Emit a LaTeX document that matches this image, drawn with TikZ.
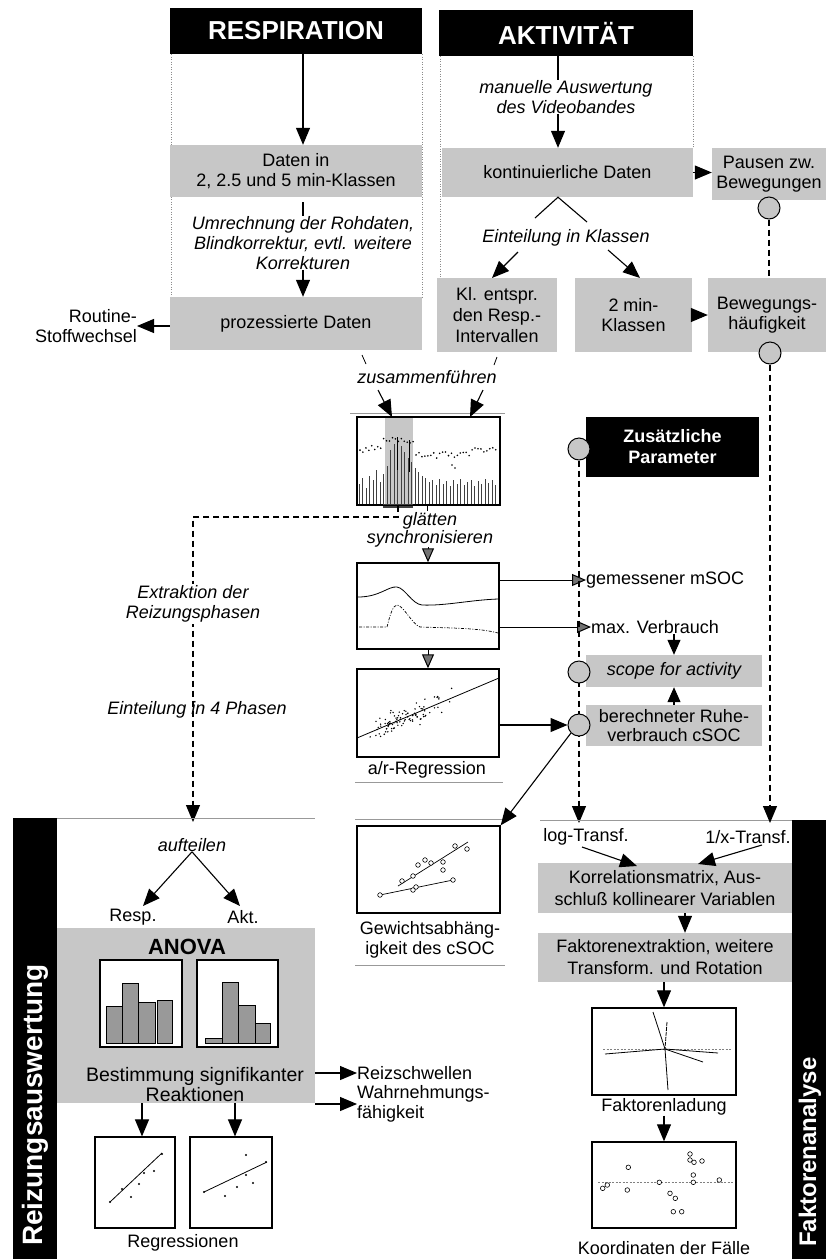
\documentclass[tikz,border=0pt]{standalone}
\usepackage{fontspec}
\setmainfont{Liberation Sans}
\usetikzlibrary{arrows.meta,calc}
\definecolor{stip}{gray}{0.78}
\definecolor{faint}{gray}{0.6}
\newcommand\myfs{\fontsize{18}{20}\selectfont}
\begin{document}
\begin{tikzpicture}[x=1pt,y=-1pt,
  gbox/.style={fill=stip, inner sep=0pt, align=center, font=\myfs},
  txt/.style={inner sep=0pt, align=center, font=\myfs},
  itx/.style={inner sep=0pt, align=center, font=\myfs\itshape},
  hdr/.style={fill=black, text=white, inner sep=0pt, font=\fontsize{26}{28}\selectfont\bfseries},
  arr/.style={line width=1.1pt, -{Triangle[length=17pt,width=14pt]}},
  marr/.style={line width=1.1pt, -{Triangle[length=15pt,width=13pt]}},
  sarr/.style={line width=1pt, -{Triangle[length=14pt,width=12pt,fill=black!55]}},
  dsh/.style={line width=1.1pt, dash pattern=on 6pt off 4pt},
  darr/.style={line width=1.1pt, dash pattern=on 6pt off 4pt, -{Triangle[length=17pt,width=14pt]}},
  circ/.style={circle, draw, line width=1pt, fill=stip, minimum size=22pt, inner sep=0pt},
  plotbox/.style={draw, line width=1.4pt, fill=white, inner sep=0pt},
  fline/.style={faint, line width=0.7pt},
  colframe/.style={black!45, line width=0.5pt, dotted},
  chbar/.style={draw, line width=0.7pt, fill=black!40},
  ocirc/.style={draw, line width=0.6pt, fill=white},
]
\useasboundingbox (0,0) rectangle (826,1259);

% faint column frames
\draw[colframe] (171,54) -- (171,297);
\draw[colframe] (422,54) -- (422,297);
\draw[colframe] (440,56) -- (440,278);
\draw[colframe] (693,56) -- (693,148);

% ---------------- headers
\node[hdr, minimum width=252pt, minimum height=46pt] (resp) at (296,31) {RESPIRATION};
\node[hdr, minimum width=254pt, minimum height=46pt] (akt) at (566,33) {AKTIVITÄT};

% ---------------- Respiration column
\node[gbox, minimum width=252pt, minimum height=52pt] (dat) at (296,171) {Daten in\\2, 2.5 und 5 min-Klassen};
\node[itx] (umr) at (303,243) {Umrechnung der Rohdaten,\\Blindkorrektur, evtl. weitere\\Korrekturen};
\node[gbox, minimum width=252pt, minimum height=53pt] (proz) at (296,323.5) {prozessierte Daten};
\draw[arr] (resp.south -| umr.north) -- (dat.north -| umr.north);
\draw[line width=1.1pt] (dat.south -| umr.north) ++(0,5) -- (umr.north);
\draw[arr] (umr.south) -- (proz.north -| umr.south);
\node[txt, align=right, anchor=east] (rt) at (137,326) {Routine-\\Stoffwechsel};
\draw[arr] (proz.west |- rt.east) -- (rt.east);

% ---------------- Aktivitaet column
\coordinate (ax) at (558,0);
\node[itx] (man) at (566,97) {manuelle Auswertung\\des Videobandes};
\node[gbox, minimum width=251pt, minimum height=49pt] (kont) at (567.5,172.5) {kontinuierliche Daten};
\draw[line width=1.1pt] (akt.south -| ax) -- (man.north -| ax);
\draw[arr] (man.south -| ax) -- (kont.north -| ax);
\node[gbox, minimum width=114pt, minimum height=52pt] (pause) at (769,174) {Pausen zw.\\Bewegungen};
\draw[arr] (kont.east) -- (pause.west |- kont.east);
\node[circ] (c1) at (769,208) {};

\coordinate (la) at (535,218);
\coordinate (ra) at (587,222);
\draw[line width=1.1pt] (la) -- (kont.south -| ax) -- (ra);
\node[itx] (ein) at (566,238) {Einteilung in Klassen};
\node[gbox, minimum width=120pt, minimum height=74pt, font=\fontsize{18}{21}\selectfont] (kl) at (497,315) {Kl. entspr.\\den Resp.-\\Intervallen};
\node[gbox, minimum width=117pt, minimum height=74pt] (zm) at (633.5,315) {2 min-\\Klassen};
\node[gbox, minimum width=118pt, minimum height=74pt] (bew) at (767,315) {Bewegungs-\\häufigkeit};
\coordinate (e1) at (518,252);
\coordinate (e1t) at (492,278);
\coordinate (e2) at (608,250);
\coordinate (e2t) at (640,278);
\draw[arr] (e1) -- (e1t);
\draw[arr] (e2) -- (e2t);
\draw[arr] (zm.east) -- (bew.west);
\draw[dsh] (c1) -- (bew.north -| c1);
\node[circ] (c2) at (770,353) {};

% ---------------- merge + plot 1
\node[itx] (zus) at (427,377) {zusammenführen};
\draw[line width=0.8pt] (362,355) -- (366,364);
\draw[line width=0.8pt] (497,357) -- (494,365);
\draw[fline] (350,413) -- (505,413);
\node[plotbox, minimum width=143pt, minimum height=88pt] (p1) at (428.5,461) {};
\coordinate (z1) at (378,390);
\coordinate (z1t) at (392,417);
\coordinate (z2) at (483,390);
\coordinate (z2t) at (470,417);
\draw[arr] (z1) -- (z1t);
\draw[arr] (z2) -- (z2t);
\fill[stip] (385,418) rectangle (413,504);
\foreach \t [count=\i from 0] in {484,478,488,476,480,470,482,474,466,450,444,438,446,452,458,462,468,472,476,478,482,480,485,479,484,481,486,480,484,479,485,482,480,486,481,484,479,483,480,485}{
  \draw[black!75, line width=0.8pt] (359+3.5*\i,504) -- (359+3.5*\i,\t);
}
\draw[line width=0.8pt] (397,437) -- (397,470);
\draw[line width=0.8pt] (409,440) -- (409,472);
\pgfmathsetseed{11}
\foreach \i in {0,...,46}{
  \pgfmathsetmacro\px{360+\i*2.95}
  \pgfmathsetmacro\py{449-(\px>383.5)*(\px<414)*9+(\px>414)*(\px<470)*6+(\px>470)*2+7*(rnd-0.5)}
  \fill (\px,\py) circle (0.9pt);
}
\fill (452,465) circle (0.9pt);
\fill (455,468) circle (0.9pt);
\fill[black!75] (383,504) rectangle (413,508);
\draw[line width=1.4pt] (p1.north west) rectangle (p1.south east);
\draw[line width=0.8pt] (427,505) -- (427,511);

% dashed route to Reizungsauswertung
\coordinate (d1) at (398,517);
\coordinate (d2) at (193,517);
\coordinate (d3) at (193,822);
\draw[darr] (p1.south -| d1) -- (d1) -- (d2) -- (d3);
\node[itx, fill=white, inner sep=2pt] (ext) at (193,604) {Extraktion der\\Reizungsphasen};
\node[itx] (e4) at (197,710) {Einteilung in 4 Phasen};

% ---------------- plot 2
\node[itx, font=\fontsize{18}{15}\selectfont\itshape] (gl) at (430,530) {glätten\\synchronisieren};
\node[plotbox, minimum width=142pt, minimum height=86pt] (p2) at (428,606) {};
\draw[sarr] (gl.south -| p2.north) -- (p2.north);
\draw[line width=0.8pt] (358,597) .. controls (380,597) and (388,586) .. (397,587)
  .. controls (405,588) and (412,604) .. (422,605) .. controls (445,606) and (470,600) .. (498,599);
\draw[line width=0.7pt, dash pattern=on 3pt off 1.5pt on 1pt off 1.5pt] (359,627) -- (387,627)
  .. controls (390,615) and (393,605) .. (397,605) .. controls (403,605) and (412,624) .. (420,627)
  .. controls (450,628) and (480,628) .. (498,633);
\node[txt, anchor=west] (ms) at (586,580) {gemessener mSOC};
\node[txt, anchor=west] (mv) at (591,627) {max. Verbrauch};
\draw[sarr] (p2.east |- ms.west) -- (ms.west);
\draw[sarr] (p2.east |- mv.west) -- (mv.west);

% ---------------- plot 3
\node[plotbox, minimum width=142pt, minimum height=88pt] (p3) at (428,713) {};
\draw[sarr] (p2.south) -- (p3.north);
\draw[line width=0.8pt] (357,738) -- (499,678);
\pgfmathsetseed{42}
\foreach \i in {1,...,80}{
  \pgfmathsetmacro\px{368+36*(rnd+rnd)}
  \pgfmathsetmacro\py{738-(\px-357)*0.4225+12*(rnd+rnd-1)}
  \fill (\px,\py) circle (0.8pt);
}
\foreach \i in {1,...,16}{
  \pgfmathsetmacro\px{372+118*rnd}
  \pgfmathsetmacro\py{738-(\px-357)*0.4225+30*(rnd-0.5)}
  \fill (\px,\py) circle (0.8pt);
}
\node[txt] (arl) at (427,770) {a/r-Regression};
\draw[fline] (355,782) -- (503,782);

% ---------------- right middle
\node[fill=black, text=white, inner sep=0pt, align=center, font=\fontsize{18}{21}\selectfont\bfseries, minimum width=173pt, minimum height=60pt] (zp) at (672.5,447) {Zusätzliche\\Parameter};
\coordinate (lt) at (579,823);
\node[circ] (cz) at (579,449) {};
\draw[darr] (cz) -- (lt);
\node[gbox, minimum width=176pt, minimum height=32pt, font=\myfs\itshape] (scope) at (674,671) {scope for activity};
\node[gbox, minimum width=176pt, minimum height=41pt, font=\fontsize{18}{19}\selectfont] (ruhe) at (674,725.5) {berechneter Ruhe-\\verbrauch cSOC};
\node[circ] (cs1) at (579,672) {};
\node[circ] (cs2) at (579,725) {};
\draw[marr] (mv.south -| scope.north) -- (scope.north);
\draw[marr] (ruhe.north) -- (scope.south);
\draw[arr] (p3.east |- cs2.west) -- (cs2.west);

% ---------------- plot 4
\draw[fline] (355,819) -- (502,819);
\node[plotbox, minimum width=143pt, minimum height=87pt] (p4) at (428.5,869.5) {};
\draw[arr] (cs2.south west) -- (p4.north east);
\draw[line width=0.7pt] (398,886) -- (468,842);
\draw[line width=0.7pt] (380,895) -- (453,880);
\foreach \q in {(380,895),(413,890),(416,887),(453,880),(402,881),(413,876),(418,865),(425,860),(431,863),(443,862),(443,870),(455,846),(467,849)}{
  \draw[ocirc] \q circle (2.3pt);
}
\node[txt] (gw) at (430,940) {Gewichtsabhäng-\\igkeit des cSOC};
\draw[fline] (355,965) -- (505,965);

% ---------------- Reizungsauswertung panel
\draw[fline] (13,818) -- (315,818);
\node[fill=black, inner sep=0pt, minimum width=44pt, minimum height=441pt] (rzbar) at (35,1038.5) {};
\node[rotate=90, text=white, inner sep=0pt, font=\fontsize{28}{30}\selectfont\bfseries] (rzt) at (35,1105) {Reizungsauswertung};
\node[itx] (auf) at (192,845) {aufteilen};
\node[txt] (rsp) at (133,917) {Resp.};
\node[txt] (ak) at (243,917) {Akt.};
\coordinate (rspt) at (143,906);
\coordinate (akt2) at (240,906);
\draw[arr] (auf.south) -- (rspt);
\draw[arr] (auf.south) -- (akt2);
\node[gbox, minimum width=258pt, minimum height=175pt] (anova) at (186,1015.5) {};
\node[inner sep=0pt, font=\fontsize{22}{24}\selectfont\bfseries] (an) at (187,947) {ANOVA};
\node[plotbox, line width=1.2pt, minimum width=82pt, minimum height=87pt] (b1) at (141,1003.5) {};
\node[plotbox, line width=1.2pt, minimum width=81pt, minimum height=87pt] (b2) at (237.5,1003.5) {};
\draw[chbar] (106,1043) rectangle (122,1006);
\draw[chbar] (122,1043) rectangle (138,983);
\draw[chbar] (138,1043) rectangle (155,1002);
\draw[chbar] (157,1043) rectangle (172,1000);
\draw[chbar] (205,1043) rectangle (222,1038);
\draw[chbar] (222,1043) rectangle (238,982);
\draw[chbar] (238,1043) rectangle (255,1005);
\draw[chbar] (255,1043) rectangle (270,1023);
\node[txt, font=\fontsize{19.5}{20}\selectfont] (best) at (195,1085) {Bestimmung signifikanter\\Reaktionen};
\node[txt, anchor=west] (rz) at (357,1073) {Reizschwellen};
\node[txt, anchor=west, align=left] (wf) at (357,1104) {Wahrnehmungs-\\fähigkeit};
\draw[arr] (anova.east |- rz.west) -- (rz.west);
\draw[arr] (anova.east |- wf.west) -- (wf.west);
\node[plotbox, line width=1.2pt, minimum width=80pt, minimum height=91pt] (r1) at (135,1182.5) {};
\node[plotbox, line width=1.2pt, minimum width=82pt, minimum height=91pt] (r2) at (231,1182.5) {};
\coordinate (a1) at (142,0);
\coordinate (a2) at (235,0);
\draw[arr] (anova.south -| a1) -- (r1.north -| a1);
\draw[arr] (anova.south -| a2) -- (r2.north -| a2);
\draw[line width=0.8pt] (110,1202) -- (162,1153);
\foreach \q in {(110,1202),(122,1189),(131,1197),(139,1184),(144,1173),(154,1171),(162,1154)}{
  \fill \q circle (1.1pt);
}
\draw[line width=0.8pt] (204,1192) -- (267,1162);
\foreach \q in {(204,1192),(225,1196),(237,1187),(246,1175),(246,1155),(253,1183),(266,1162)}{
  \fill \q circle (1.1pt);
}
\node[txt] (regl) at (183,1243) {Regressionen};

% ---------------- Faktorenanalyse panel
\draw[fline] (540,820) -- (792,820);
\node[fill=black, inner sep=0pt, minimum width=34pt, minimum height=439pt] (fbar) at (809,1039.5) {};
\node[rotate=90, text=white, inner sep=0pt, font=\fontsize{24}{26}\selectfont\bfseries] (fkt) at (810,1152) {Faktorenanalyse};
\node[txt] (lg) at (586,837) {log-Transf.};
\node[txt] (ox) at (748,837) {1/x-Transf.};
\coordinate (ot) at (770,823);
\draw[darr] (c2) -- (ot);
\node[gbox, minimum width=254pt, minimum height=50pt, font=\fontsize{18}{22}\selectfont] (kor) at (665,888) {Korrelationsmatrix, Aus-\\schluß kollinearer Variablen};
\node[gbox, minimum width=254pt, minimum height=49pt, font=\fontsize{18}{22}\selectfont] (fe) at (665,957.5) {Faktorenextraktion, weitere\\Transform. und Rotation};
\coordinate (k1) at (582,847);
\coordinate (k1t) at (637,866);
\coordinate (k2) at (762,845);
\coordinate (k2t) at (698,864);
\draw[arr] (k1) -- (k1t);
\draw[arr] (k2) -- (k2t);
\coordinate (kx) at (685,0);
\draw[arr] (kor.south -| kx) -- (fe.north -| kx);
\node[plotbox, minimum width=144pt, minimum height=87pt] (fl) at (664,1051.5) {};
\draw[arr] (fe.south -| fl.north) -- (fl.north);
\draw[black!50, line width=0.6pt, dash pattern=on 2pt off 1.5pt] (603,1049) -- (732,1049);
\draw[line width=0.8pt] (653,1012) -- (665,1049) -- (668,1090);
\draw[line width=0.8pt] (605,1054) -- (665,1049) -- (718,1053);
\draw[line width=0.8pt] (665,1049) -- (703,1062);
\draw[line width=0.8pt, dash pattern=on 4pt off 1pt] (667,1022) -- (665,1049);
\node[txt] (fll) at (664,1107) {Faktorenladung};
\node[plotbox, minimum width=144pt, minimum height=86pt] (ko) at (664,1185) {};
\draw[arr] (fll.south) -- (ko.north);
\draw[black!50, line width=0.6pt, dash pattern=on 2pt off 1.5pt] (598,1182) -- (733,1182);
\foreach \q in {(602.7,1188.3),(607.3,1185),(628.3,1167.3),(627.3,1190),(659.3,1182.3),(670,1193.3),(675.3,1198.3),(673.3,1211.7),(681.7,1211.7),(690,1154),(690,1160),(694,1162.3),(702,1161),(693.3,1175),(693.3,1182.3),(719.3,1180)}{
  \draw[ocirc] \q circle (2.3pt);
}
\node[txt] (kol) at (664,1248) {Koordinaten der Fälle};
\end{tikzpicture}
\end{document}
